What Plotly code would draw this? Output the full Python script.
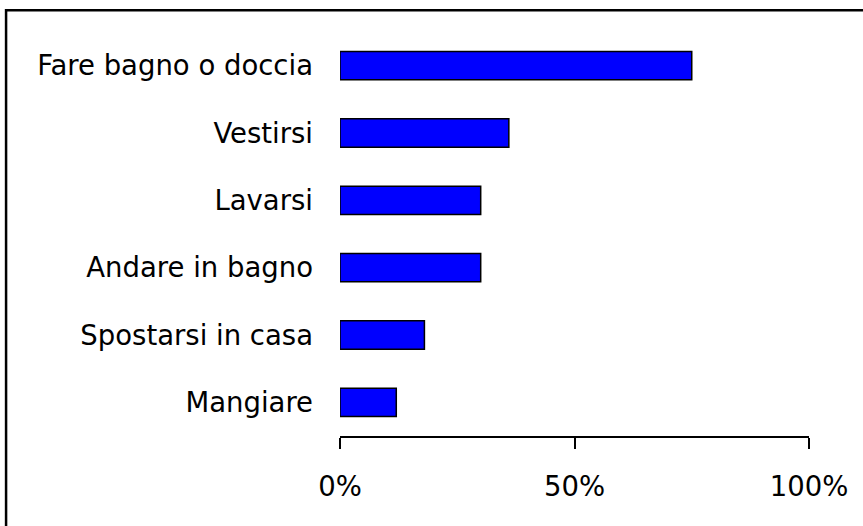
import plotly.graph_objects as go

# Dati: percentuale di persone con difficoltà nelle attività quotidiane
attivita = ["Fare bagno o doccia", "Vestirsi", "Lavarsi", "Andare in bagno",
            "Spostarsi in casa", "Mangiare"]
percentuali = [75, 36, 30, 30, 18, 12]
tick_valori = [0, 50, 100]
tick_testi = ["0%", "50%", "100%"]

fig = go.Figure()

fig.add_trace(
    go.Bar(
        x=percentuali,
        y=attivita,
        orientation="h",
        width=0.42,
        marker=dict(color="#0000FF", line=dict(color="black", width=1.5)),
    ))

fig.update_layout(
    width=863, height=526,
    margin=dict(l=340, r=54, t=32, b=90),
    paper_bgcolor="white", plot_bgcolor="white",
    font=dict(family="DejaVu Sans", size=27.5, color="black"),
    showlegend=False,
)

fig.update_xaxes(
    range=[0, 100],
    tickvals=tick_valori, ticktext=tick_testi,
    showgrid=False, zeroline=False,
    showline=True, linecolor="black", linewidth=1.5,
    ticks="outside", ticklen=11, tickwidth=1.5, tickcolor="black",
    ticklabelstandoff=14,
)

fig.update_yaxes(
    autorange="reversed",
    showgrid=False, zeroline=False, showline=False,
    ticks="", ticklabelstandoff=26,
)

# Cornice esterna
fig.add_shape(type="rect", xref="paper", yref="paper",
              x0=-0.712, x1=1.2, y0=-0.3, y1=1.054,
              line=dict(color="black", width=2.5))

# togliere il margine della pagina
fig.write_html("out.html", config={"displayModeBar": False},
               post_script="document.body.style.margin='0';")
